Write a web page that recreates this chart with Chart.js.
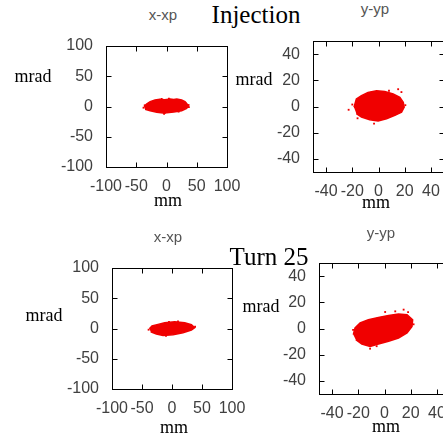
<!DOCTYPE html>
<html>
<head>
<meta charset="utf-8">
<script src="https://cdn.jsdelivr.net/npm/chart.js@4.4.0/dist/chart.umd.min.js"></script>
<style>
html, body { margin: 0; padding: 0; overflow: hidden; background: #fff; }
body { position: relative; width: 443px; height: 439px; }
canvas { position: absolute; }
.t { position: absolute; transform: translate(-50%, -50%); line-height: 1; white-space: nowrap; }
.big { font-family: 'Liberation Serif'; font-size: 25px; color: #000; }
.sub { font-family: 'Liberation Sans'; font-size: 15px; color: #555; }
.ax { font-family: 'Liberation Serif'; font-size: 18px; color: #000; }
</style>
</head>
<body>
<canvas id="c1"></canvas>
<canvas id="c2"></canvas>
<canvas id="c3"></canvas>
<canvas id="c4"></canvas>

<div class="t big" style="left:256px; top:14px">Injection</div>
<div class="t big" style="left:269px; top:256px">Turn 25</div>

<div class="t sub" style="left:163px; top:14px">x-xp</div>
<div class="t sub" style="left:375px; top:8px">y-yp</div>
<div class="t sub" style="left:168px; top:236px">x-xp</div>
<div class="t sub" style="left:381px; top:232px">y-yp</div>

<div class="t ax" style="left:33px; top:76px">mrad</div>
<div class="t ax" style="left:254px; top:79px">mrad</div>
<div class="t ax" style="left:44px; top:315px">mrad</div>
<div class="t ax" style="left:261px; top:306px">mrad</div>

<div class="t ax" style="left:168px; top:200px">mm</div>
<div class="t ax" style="left:376px; top:202px">mm</div>
<div class="t ax" style="left:174px; top:427px">mm</div>
<div class="t ax" style="left:386px; top:426px">mm</div>

<script>
const red = 'rgb(240,0,0)';

// tick labels
const xxpTicks = [-100, -50, 0, 50, 100];
const yypTicks = [-40, -20, 0, 20, 40];

// Injection, x-xp : outline of the particle cloud (mm, mrad)
const injXOutline = [
  {x: -37, y: -0.3}, {x: -33, y: 4}, {x: -27, y: 8}, {x: -19, y: 10.7}, {x: -11, y: 11.8},
  {x: -3, y: 11}, {x: 6, y: 12.4}, {x: 12, y: 11.5}, {x: 17, y: 12.4}, {x: 25, y: 10.7},
  {x: 30.6, y: 8}, {x: 33.3, y: 5.2}, {x: 36, y: 0.8}, {x: 33.3, y: -3}, {x: 25, y: -6.9},
  {x: 12, y: -9}, {x: 0.3, y: -10.2}, {x: -2.5, y: -11.3}, {x: -9, y: -10.5}, {x: -16, y: -9.6},
  {x: -27, y: -6.9}, {x: -35.5, y: -4.7}
];
const injXSpecks = [
  {x: -38, y: -2}, {x: -36, y: 2}, {x: 37, y: -1}, {x: 36.5, y: 2.5}, {x: 4, y: 13},
  {x: -8, y: 12.5}, {x: -4, y: -12}, {x: 20, y: -8.5}
];

// Injection, y-yp
const injYOutline = [
  {x: -18.7, y: -0.5}, {x: -16.9, y: 5.8}, {x: -13, y: 8.3}, {x: -8, y: 10.8}, {x: -1.5, y: 12.1},
  {x: 4.8, y: 11.4}, {x: 11.2, y: 9.6}, {x: 16.3, y: 7}, {x: 18.9, y: 3.3}, {x: 19.6, y: -0.5},
  {x: 17.6, y: -4.3}, {x: 12.5, y: -6.8}, {x: 6.1, y: -9.3}, {x: -0.3, y: -11.1}, {x: -6.7, y: -10.1},
  {x: -13, y: -8.1}, {x: -16.9, y: -5.5}
];
const injYSpecks = [
  {x: -22.8, y: -2.5}, {x: 15, y: 13.2}, {x: 17.5, y: 11}, {x: -3.4, y: -13.1}, {x: -16, y: -9},
  {x: 20.5, y: 1}, {x: -20, y: 1.5}, {x: 8, y: 12}
];

// Turn 25, x-xp
const t25XOutline = [
  {x: -37.7, y: -0.3}, {x: -33.3, y: 4.1}, {x: -23.3, y: 6.8}, {x: -12.2, y: 9.6}, {x: 4.5, y: 11.2},
  {x: 21.2, y: 9.6}, {x: 32.3, y: 6.3}, {x: 37.8, y: 1.3}, {x: 32.3, y: -2.5}, {x: 18.3, y: -6.9},
  {x: 1.7, y: -10.2}, {x: -15, y: -11.4}, {x: -26, y: -9.1}, {x: -35.5, y: -5.3}
];
const t25XSpecks = [
  {x: -39, y: -2}, {x: 38.5, y: 3}, {x: -5, y: 11}, {x: 10, y: 11.5}, {x: -10, y: -12}
];

// Turn 25, y-yp
const t25YOutline = [
  {x: -23.8, y: -4.7}, {x: -22.5, y: 0.4}, {x: -18.6, y: 4.2}, {x: -12.3, y: 6.7}, {x: -4.6, y: 8.5},
  {x: 3.1, y: 10}, {x: 10.7, y: 11.1}, {x: 17.2, y: 10.5}, {x: 21.5, y: 6.7}, {x: 21, y: 1.6},
  {x: 17.2, y: -3.4}, {x: 10.7, y: -7.3}, {x: 3.1, y: -9.8}, {x: -4.6, y: -11.8}, {x: -11, y: -13.7},
  {x: -17.3, y: -11.8}, {x: -21.9, y: -8.5}
];
const t25YSpecks = [
  {x: 14.6, y: 14.4}, {x: 8.2, y: 13.1}, {x: 0.5, y: 12.6}, {x: -11, y: -15.4}, {x: 22.2, y: 3.2},
  {x: -6, y: -13.5}, {x: -24, y: -1}, {x: 18, y: 12.5}
];

// draws the full box and the inward tick marks on all four sides
const frame = {
  id: 'frame',
  afterDatasetsDraw(chart) {
    const ctx = chart.ctx;
    const a = chart.chartArea;
    const sx = chart.scales.x, sy = chart.scales.y;
    const L = Math.round(a.left) + 0.5, R = Math.round(a.right) + 0.5;
    const T = Math.round(a.top) + 0.5, B = Math.round(a.bottom) + 0.5;
    ctx.save();
    ctx.strokeStyle = '#000';
    ctx.lineWidth = 1;
    ctx.strokeRect(L, T, R - L, B - T);
    ctx.beginPath();
    sx.ticks.forEach(t => {
      const p = Math.round(sx.getPixelForValue(t.value)) + 0.5;
      ctx.moveTo(p, B); ctx.lineTo(p, B - 5);
      ctx.moveTo(p, T); ctx.lineTo(p, T + 5);
    });
    sy.ticks.forEach(t => {
      const p = Math.round(sy.getPixelForValue(t.value)) + 0.5;
      ctx.moveTo(L, p); ctx.lineTo(L + 5, p);
      ctx.moveTo(R, p); ctx.lineTo(R - 5, p);
    });
    ctx.stroke();
    ctx.restore();
  }
};

const YW = 60, XH = 32, PT = 12, PR = 25;

function panel(id, box, lim, ticks, outline, specks) {
  const cv = document.getElementById(id);
  cv.width = box.w + YW + PR;
  cv.height = box.h + PT + XH;
  cv.style.left = (box.l - YW) + 'px';
  cv.style.top = (box.t - PT) + 'px';

  const tickFont = {family: 'Liberation Sans', size: 16};
  return new Chart(cv, {
    type: 'line',
    data: {
      datasets: [{
        data: outline,
        fill: 'shape',
        backgroundColor: red,
        borderColor: red,
        borderWidth: 1.5,
        pointRadius: 0,
        tension: 0
      }, {
        data: specks,
        showLine: false,
        pointStyle: 'rect',
        pointRadius: 1.3,
        borderWidth: 0,
        backgroundColor: red
      }]
    },
    options: {
      responsive: false,
      animation: false,
      events: [],
      layout: {padding: {left: 0, top: PT, right: PR, bottom: 0}},
      plugins: {legend: {display: false}, tooltip: {enabled: false}},
      scales: {
        x: {
          type: 'linear', min: lim[0], max: lim[1],
          grid: {display: false, drawTicks: false},
          border: {display: false},
          ticks: {font: tickFont, color: '#404040', padding: 10, autoSkip: false, maxRotation: 0},
          afterBuildTicks: s => { s.ticks = ticks.map(v => ({value: v})); },
          afterFit: s => { s.height = XH; s.paddingLeft = 0; s.paddingRight = 0; }
        },
        y: {
          type: 'linear', min: lim[0], max: lim[1],
          grid: {display: false, drawTicks: false},
          border: {display: false},
          ticks: {font: tickFont, color: '#404040', padding: 13, autoSkip: false},
          afterBuildTicks: s => { s.ticks = ticks.map(v => ({value: v})); },
          afterFit: s => { s.width = YW; s.paddingTop = 0; s.paddingBottom = 0; }
        }
      }
    },
    plugins: [frame]
  });
}

panel('c1', {l: 106, t: 46, w: 121, h: 121}, [-100, 100], xxpTicks, injXOutline, injXSpecks);
panel('c2', {l: 313, t: 41, w: 131, h: 131}, [-50, 50], yypTicks, injYOutline, injYSpecks);
panel('c3', {l: 112, t: 268, w: 120, h: 121}, [-100, 100], xxpTicks, t25XOutline, t25XSpecks);
panel('c4', {l: 319, t: 263, w: 131, h: 131}, [-50, 50], yypTicks, t25YOutline, t25YSpecks);
</script>
</body>
</html>
